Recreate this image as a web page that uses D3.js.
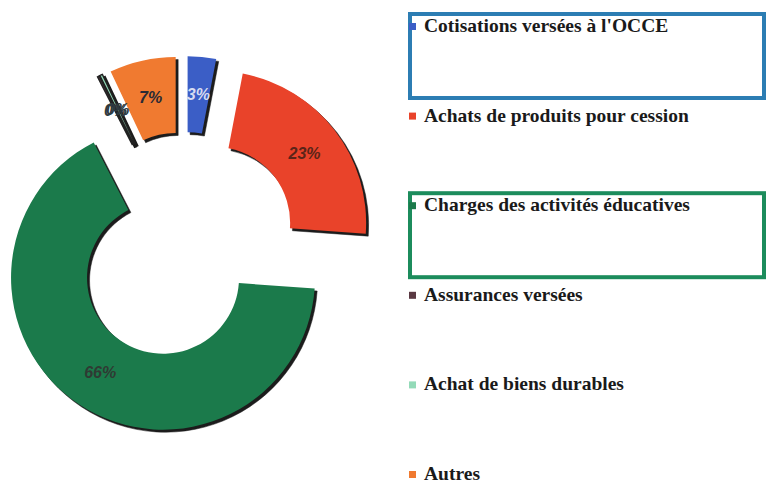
<!DOCTYPE html>
<html>
<head>
<meta charset="utf-8">
<script src="https://cdn.jsdelivr.net/npm/d3@7"></script>
<style>
  body { margin: 0; background: #fff; }
  svg { display: block; }
</style>
</head>
<body>
<div id="chart"></div>
<script>
// chart values
const categories = [
  "Cotisations versées à l'OCCE",
  "Achats de produits pour cession",
  "Charges des activités éducatives",
  "Assurances versées",
  "Achat de biens durables",
  "Autres"
];
const values = [3, 23, 66, 0.2, 0.3, 7];
const pctLabels = ["3%", "23%", "66%", "0%", "0%", "7%"];
const colors = ["#3b5ec6", "#e9432a", "#1b7a4b", "#5a3942", "#93dab8", "#f07a30"];
const labelColors = ["#d8dcf0", "#5a2418", "#2f3a33", "#2f3a40", "#2f3a40", "#2a2a35"];
// legend entries that carry an outlined box in the original
const boxed = [{ idx: 0, color: "#2c7db3" }, { idx: 2, color: "#1c8c5c" }];

const width = 767, height = 485;
const cx = 184, cy = 246;
const outerR = 152, innerR = 76, explode = 38;

const svg = d3.select('#chart').append('svg')
  .attr('width', width)
  .attr('height', height);

const pieGen = d3.pie().sort(null).value(d => d);
const slices = pieGen(values);

const arcGen = d3.arc().innerRadius(innerR).outerRadius(outerR);
const labelArc = d3.arc().innerRadius((innerR + outerR) / 2).outerRadius((innerR + outerR) / 2);

const offset = d => {
  const a = (d.startAngle + d.endAngle) / 2;
  return [Math.sin(a) * explode, -Math.cos(a) * explode];
};

const donut = svg.append('g').attr('transform', `translate(${cx},${cy})`);

const sliceG = donut.selectAll('g.slice')
  .data(slices)
  .join('g')
  .attr('class', 'slice')
  .attr('transform', d => `translate(${offset(d)})`);

// dark drop shadow
sliceG.append('path')
  .attr('d', arcGen)
  .attr('transform', 'translate(2.5,2.5)')
  .attr('fill', '#1c1c1c')
  .attr('stroke', '#1c1c1c')
  .attr('stroke-width', d => d.data < 1 ? 2 : 0.5);

sliceG.append('path')
  .attr('d', arcGen)
  .attr('fill', (d, i) => colors[i])
  .attr('stroke', d => d.data < 1 ? '#222' : 'none')
  .attr('stroke-width', 1.5);

// percentage labels
donut.selectAll('text.pct')
  .data(slices)
  .join('text')
  .attr('class', 'pct')
  .attr('transform', d => {
    const c = labelArc.centroid(d);
    const o = offset(d);
    return `translate(${c[0] + o[0]},${c[1] + o[1]})`;
  })
  .attr('text-anchor', 'middle')
  .attr('dy', '0.35em')
  .attr('font-family', 'Liberation Sans, Arial, sans-serif')
  .attr('font-weight', 'bold')
  .attr('font-style', 'italic')
  .attr('font-size', 16)
  .attr('fill', (d, i) => labelColors[i])
  .text((d, i) => pctLabels[i]);

// legend
const legend = svg.append('g');
const step = 89.6, firstY = 32;

legend.selectAll('rect.box')
  .data(boxed)
  .join('rect')
  .attr('class', 'box')
  .attr('x', 410)
  .attr('y', d => firstY + d.idx * step - 18)
  .attr('width', 354)
  .attr('height', 84)
  .attr('fill', 'none')
  .attr('stroke', d => d.color)
  .attr('stroke-width', 4);

const items = legend.selectAll('g.item')
  .data(categories)
  .join('g')
  .attr('class', 'item')
  .attr('transform', (d, i) => `translate(409,${firstY + i * step})`);

items.append('rect')
  .attr('x', 0)
  .attr('y', -9)
  .attr('width', 7)
  .attr('height', 7)
  .attr('fill', (d, i) => colors[i]);

items.append('text')
  .attr('x', 15)
  .attr('y', 0)
  .attr('font-family', 'Liberation Serif, Times New Roman, serif')
  .attr('font-weight', 'bold')
  .attr('font-size', 19.5)
  .attr('fill', '#1a1a1a')
  .text(d => d);
</script>
</body>
</html>
